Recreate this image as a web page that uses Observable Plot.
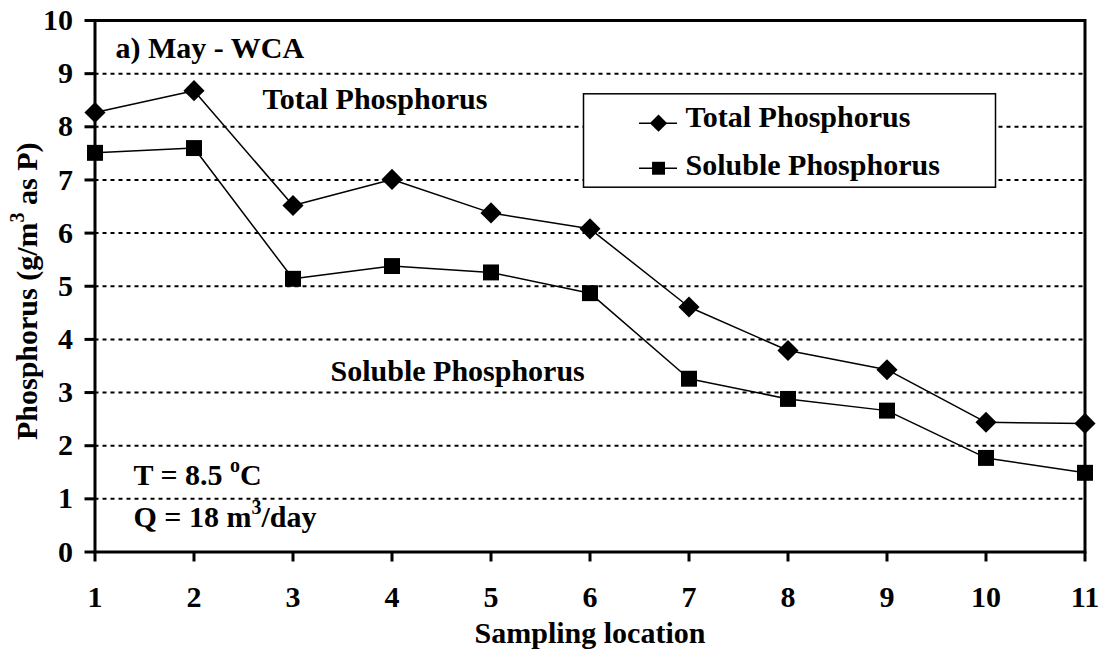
<!DOCTYPE html>
<html>
<head>
<meta charset="utf-8">
<script src="https://cdn.jsdelivr.net/npm/d3@7"></script>
<script src="https://cdn.jsdelivr.net/npm/@observablehq/plot@0.6"></script>
<style>
  html, body { margin: 0; padding: 0; background: white; }
  #chart svg { display: block; max-width: none !important; }
</style>
</head>
<body>
<div id="chart"></div>
<script>
// ---- data ----
const locations = [1, 2, 3, 4, 5, 6, 7, 8, 9, 10, 11];
const totalP    = [8.27, 8.68, 6.52, 7.01, 6.38, 6.08, 4.61, 3.79, 3.43, 2.44, 2.42];
const solubleP  = [7.51, 7.60, 5.14, 5.38, 5.26, 4.87, 3.26, 2.88, 2.66, 1.77, 1.49];
const xTicks = [1, 2, 3, 4, 5, 6, 7, 8, 9, 10, 11];
const yTicks = [0, 1, 2, 3, 4, 5, 6, 7, 8, 9, 10];
const gridTicks = [1, 2, 3, 4, 5, 6, 7, 8, 9];
const seriesNames = ["Total Phosphorus", "Soluble Phosphorus"];
const xTitle = "Sampling location";
const yTitle = "Phosphorus (g/m^3 as P)";
const panelLabel = "a) May - WCA";
const tempLabel = "T = 8.5 ^oC";
const flowLabel = "Q = 18 m^3/day";

const total = locations.map((x, i) => ({x, y: totalP[i]}));
const soluble = locations.map((x, i) => ({x, y: solubleP[i]}));

const FONT = "'Liberation Serif', 'Times New Roman', serif";
const T = {fontSize: 30, fontWeight: "bold", fontFamily: FONT, fill: "black"};

const chart = Plot.plot({
  width: 1103,
  height: 655,
  marginLeft: 94.5,
  marginRight: 18.5,
  marginTop: 20,
  marginBottom: 103.5,
  x: {domain: [1, 11]},
  y: {domain: [0, 10]},
  style: {fontFamily: FONT, fontWeight: "bold", fontSize: "30px", color: "black", background: "white"},
  marks: [
    Plot.gridY(gridTicks, {stroke: "black", strokeOpacity: 1, strokeWidth: 2, strokeDasharray: "4,4"}),
    // legend box
    Plot.frame({insetLeft: 488.5, insetRight: 89.5, insetTop: 73.3, insetBottom: 364.8, fill: "white", stroke: "black", strokeWidth: 1.5}),
    Plot.ruleY([8.068], {x1: 6.50, x2: 6.884, stroke: "black", strokeWidth: 1.5}),
    Plot.ruleY([7.22], {x1: 6.50, x2: 6.884, stroke: "black", strokeWidth: 1.5}),
    Plot.dot([seriesNames[0]], {x: 6.692, y: 8.068, symbol: "diamond2", r: 7.8, fill: "black"}),
    Plot.dot([seriesNames[1]], {x: 6.692, y: 7.22, symbol: "square", r: 7.3, fill: "black"}),
    Plot.text([seriesNames[0]], {x: 6.965, y: 8.175, text: d => d, textAnchor: "start", lineAnchor: "middle", ...T}),
    Plot.text([seriesNames[1]], {x: 6.965, y: 7.28, text: d => d, textAnchor: "start", lineAnchor: "middle", ...T}),
    // frame and axes
    Plot.frame({stroke: "black", strokeWidth: 3}),
    Plot.axisY({ticks: yTicks, tickSize: 10, tickPadding: 12, strokeWidth: 3, label: null, tickFormat: d => d, ...T}),
    Plot.axisX({ticks: xTicks, tickSize: 10, tickPadding: 24, strokeWidth: 3, label: null, tickFormat: d => d, ...T}),
    // series
    Plot.line(total, {x: "x", y: "y", stroke: "black", strokeWidth: 1.5}),
    Plot.line(soluble, {x: "x", y: "y", stroke: "black", strokeWidth: 1.5}),
    Plot.dot(total, {x: "x", y: "y", symbol: "diamond2", r: 9.5, fill: "black"}),
    Plot.dot(soluble, {x: "x", y: "y", symbol: "square", r: 9, fill: "black"}),
    // annotations
    Plot.text([panelLabel], {x: 1.207, y: 9.47, text: d => d, textAnchor: "start", lineAnchor: "middle", ...T}),
    Plot.text([seriesNames[0]], {x: 2.692, y: 8.52, text: d => d, textAnchor: "start", lineAnchor: "middle", ...T}),
    Plot.text([seriesNames[1]], {x: 3.379, y: 3.40, text: d => d, textAnchor: "start", lineAnchor: "middle", ...T}),
    Plot.text([tempLabel], {x: 1.389, y: 1.44, text: d => d, textAnchor: "start", lineAnchor: "middle", ...T}),
    Plot.text([flowLabel], {x: 1.389, y: 0.65, text: d => d, textAnchor: "start", lineAnchor: "middle", ...T}),
    // axis titles
    Plot.text([xTitle], {frameAnchor: "bottom", dy: 81.5, text: d => d, textAnchor: "middle", lineAnchor: "middle", ...T}),
    Plot.text([yTitle], {frameAnchor: "left", dx: -68, dy: 5, rotate: -90, text: d => d, textAnchor: "middle", lineAnchor: "middle", ...T})
  ]
});

// superscripts: "^X" -> raised small X
d3.select(chart).selectAll("text").each(function () {
  const t = this.textContent;
  if (!t || !t.includes("^")) return;
  const parts = t.split(/\^(.)/);
  const sel = d3.select(this);
  sel.text(null);
  parts.forEach((p, i) => {
    const ts = sel.append("tspan").text(p);
    if (i % 2 === 1) ts.style("font-size", "20px").attr("dy", -13);
    else if (i > 0) ts.attr("dy", 13);
  });
});

document.getElementById("chart").appendChild(chart);
</script>
</body>
</html>
